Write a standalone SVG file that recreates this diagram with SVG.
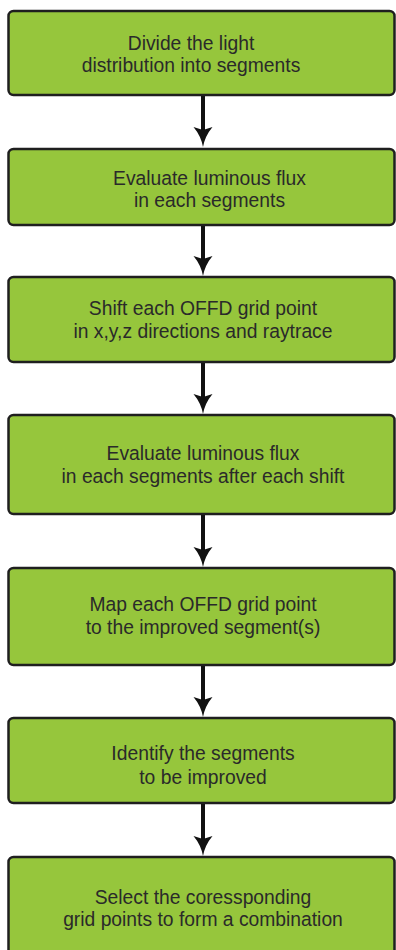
<svg xmlns="http://www.w3.org/2000/svg" width="396" height="950" viewBox="0 0 396 950">
  <style>
    .box { fill: #96c63c; stroke: #1f1f1f; stroke-width: 2.5; }
    .lbl { font-family: "Liberation Sans", Arial, sans-serif; font-size: 19.3px; fill: #2a2a2a; text-anchor: middle; }
    .shaft { stroke: #111; stroke-width: 4; fill: none; }
    .head { fill: #111; }
  </style>
  <defs>
    <!-- concave-sided arrowhead, tip at origin -->
    <path id="arrowhead" class="head" d="M0,0 Q-2,-11 -9.5,-20 L0,-17 L9.5,-20 Q2,-11 0,0 Z"/>
  </defs>
  <rect width="396" height="950" fill="#ffffff"/>

  <g id="connectors">
    <line class="shaft" x1="203" y1="95" x2="203" y2="132"/>
    <use href="#arrowhead" x="203" y="147"/>
    <line class="shaft" x1="203" y1="225" x2="203" y2="261"/>
    <use href="#arrowhead" x="203" y="276"/>
    <line class="shaft" x1="203" y1="362" x2="203" y2="399"/>
    <use href="#arrowhead" x="203" y="414"/>
    <line class="shaft" x1="203" y1="514" x2="203" y2="552"/>
    <use href="#arrowhead" x="203" y="567"/>
    <line class="shaft" x1="203" y1="665" x2="203" y2="702"/>
    <use href="#arrowhead" x="203" y="717"/>
    <line class="shaft" x1="203" y1="803" x2="203" y2="841"/>
    <use href="#arrowhead" x="203" y="856"/>
  </g>

  <g id="step1">
    <rect class="box" x="8.5" y="11" width="386" height="84" rx="5"/>
    <text class="lbl" x="191" y="49.5">Divide the light</text>
    <text class="lbl" x="191" y="72">distribution into segments</text>
  </g>

  <g id="step2">
    <rect class="box" x="8.5" y="149" width="386" height="76" rx="5"/>
    <text class="lbl" x="209.5" y="184.5">Evaluate luminous flux</text>
    <text class="lbl" x="209.5" y="207">in each segments</text>
  </g>

  <g id="step3">
    <rect class="box" x="8.5" y="277" width="386" height="85" rx="5"/>
    <text class="lbl" x="203" y="315">Shift each OFFD grid point</text>
    <text class="lbl" x="203" y="338">in x,y,z directions and raytrace</text>
  </g>

  <g id="step4">
    <rect class="box" x="8.5" y="415" width="386" height="99" rx="5"/>
    <text class="lbl" x="203" y="460">Evaluate luminous flux</text>
    <text class="lbl" x="203" y="483">in each segments after each shift</text>
  </g>

  <g id="step5">
    <rect class="box" x="8.5" y="568" width="386" height="97" rx="5"/>
    <text class="lbl" x="203" y="611">Map each OFFD grid point</text>
    <text class="lbl" x="203" y="633.5">to the improved segment(s)</text>
  </g>

  <g id="step6">
    <rect class="box" x="8.5" y="718" width="386" height="85" rx="5"/>
    <text class="lbl" x="203" y="760">Identify the segments</text>
    <text class="lbl" x="203" y="783.5">to be improved</text>
  </g>

  <g id="step7">
    <rect class="box" x="8.5" y="857" width="386" height="100" rx="5"/>
    <text class="lbl" x="203" y="903.5">Select the coressponding</text>
    <text class="lbl" x="203" y="926">grid points to form a combination</text>
  </g>
</svg>
